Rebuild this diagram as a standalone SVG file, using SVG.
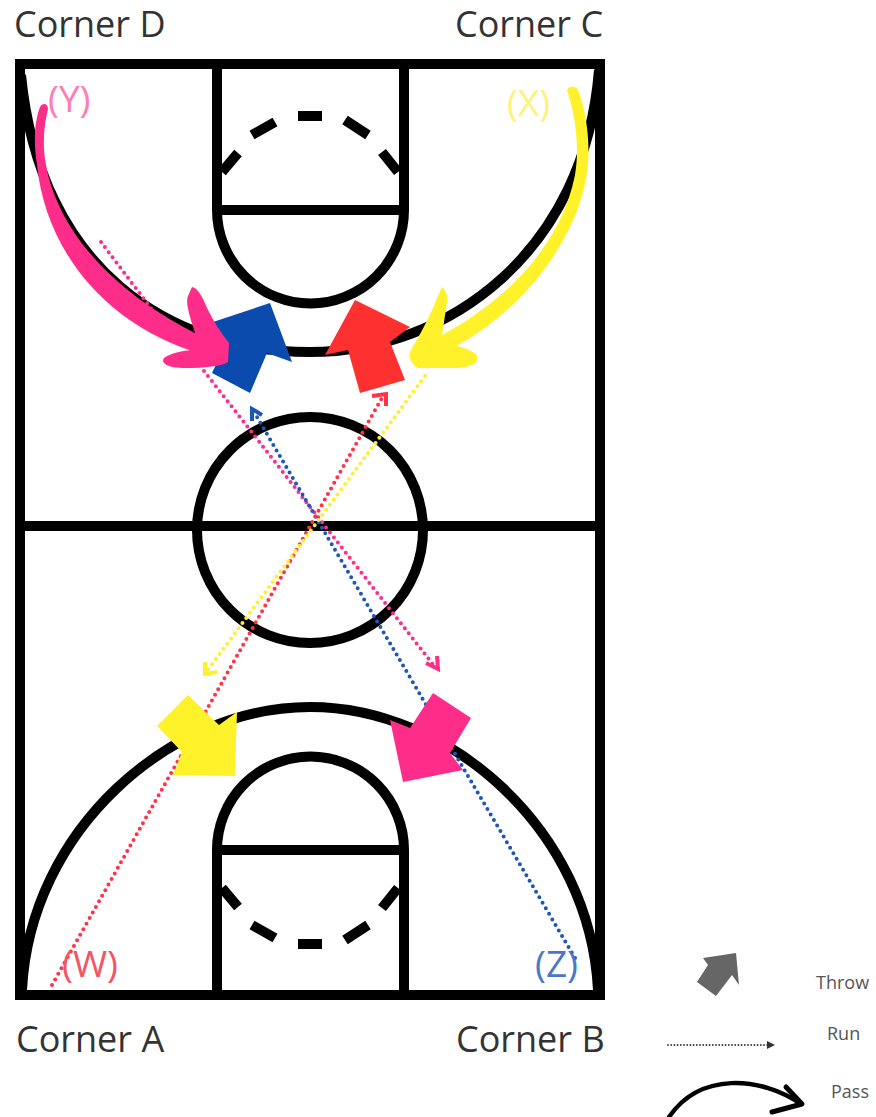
<svg xmlns="http://www.w3.org/2000/svg" width="876" height="1117" viewBox="0 0 876 1117">
<style>
.line{fill:none;stroke:#000;stroke-width:10}
.dots{fill:none;stroke-width:4;stroke-linecap:round;stroke-dasharray:0 6.400}
.corner{font-family:"Open Sans",sans-serif;font-size:36px;fill:#333}
.tag{font-family:"Open Sans",sans-serif;font-size:37px}
.legend{font-family:"Open Sans",sans-serif;font-size:18px;fill:#555}
</style>
<rect width="876" height="1117" fill="#fff"/>
<g id="court">
<rect class="line" x="20" y="64" width="580" height="931"/>
<path class="line" d="M20 526H600"/>
<circle class="line" cx="310" cy="530" r="113"/>
<path class="line" d="M217 64V210A93.500 93.500 0 0 0 404 210V64M217 210H404"/>
<path class="line" d="M217 995V850A93.500 93.500 0 0 1 404 850V995M217 850H404"/>
<path class="line" d="M222 172L238 153M252 135L275 122M298 116H322M345 120L368 135M382 152L398 172"/>
<path class="line" d="M222 888L238 907M252 925L275 938M298 944H322M345 940L368 925M382 908L398 888"/>
<path class="line" d="M21 75C40 270 170 352 310 352C450 352 585 250 599 70"/>
<path class="line" d="M22 990C30 830 170 707 310 707C450 707 590 830 598 990"/>
</g>
<g id="connectors">
<path class="dots" stroke="#ff2d8a" d="M101 242L156 315M204 371L435 667"/>
<path class="dots" stroke="#1f55b8" d="M575 958L254 412"/>
<path class="dots" stroke="#ff3347" d="M52 985L383 396"/>
<path class="dots" stroke="#ffef33" d="M425 376L207 671"/>
<path fill="none" stroke="#ff2d8a" stroke-width="4" d="M426 663L438 669L437 656"/>
<path fill="none" stroke="#1f55b8" stroke-width="4" d="M252 421L252 409L262 415"/>
<path fill="none" stroke="#ff3347" stroke-width="4" d="M372 396L386 394L386 406"/>
<path fill="none" stroke="#ffef33" stroke-width="4" d="M205 662L205 674L217 672"/>
<path class="dots" stroke="#444" d="M668 1045H768" style="stroke-width:2;stroke-dasharray:0 3.200"/>
<path fill="#333" d="M767 1041L775 1045L767 1049Z"/>
</g>
<g id="throw-blue"><path fill="#0b4bad" d="M213 322L270 303L292 362L267 353L250 393L212 373L225 345Z"/></g>
<g id="throw-red"><path fill="#ff3030" d="M355 300L410 327L390 342L405 380L360 393L348 350L325 355Z"/></g>
<g id="throw-yellow"><path fill="#fff22a" d="M188 695L219 725L237 712L235 776L173 775L182 752L157 726Z"/></g>
<g id="throw-pink"><path fill="#ff2d8a" d="M433 693L471 718L450 753L463 770L403 782L390 720L410 728Z"/></g>
<g id="arrow-pink-curve" fill="#ff2d8a">
<path d="M40 107C43 102 48 104 48 109C44 125 42 145 46 165C55 215 95 285 205 338L205 355C100 325 45 245 37 165C33 140 35 120 40 107Z"/>
<path d="M192 287C198 288 203 298 207 308C213 320 220 332 229 343L228 362C222 366 205 368 185 368C170 368 160 364 164 358C170 353 185 350 200 349C195 330 184 305 188 296Z"/>
</g>
<g id="arrow-yellow-curve" fill="#fff22a">
<path d="M567 90C570 85 576 86 578 90C586 110 590 140 588 165C582 230 530 310 443 353L438 337C500 305 560 250 575 175C580 145 575 115 567 90Z"/>
<path d="M442 287C446 290 448 297 447 302L441 342C455 345 470 349 476 354C480 360 476 366 460 368L418 368C411 364 409 358 410 352C420 335 432 312 437 298Z"/>
</g>
<g id="labels">
<text class="corner" x="14" y="37">Corner D</text>
<text class="corner" x="455" y="37">Corner C</text>
<text class="corner" x="16" y="1052">Corner A</text>
<text class="corner" x="456" y="1052">Corner B</text>
<text class="tag" x="48" y="112" fill="#ff7db5">(Y)</text>
<text class="tag" x="507" y="116" fill="#fff27a">(X)</text>
<text class="tag" x="62" y="977" fill="#f25565">(W)</text>
<text class="tag" x="535" y="977" fill="#4a78c8">(Z)</text>
</g>
<g id="legend">
<path fill="#666" d="M703 958L736 953L739 985L732 975L716 996L697 982L708 965Z"/>
<path fill="none" stroke="#000" stroke-width="4.500" stroke-linecap="round" d="M669 1117C700 1072 760 1076 801 1104"/>
<path fill="none" stroke="#000" stroke-width="5" stroke-linecap="round" stroke-linejoin="round" d="M786 1087L802 1104L772 1112"/>
<text class="legend" x="816" y="989">Throw</text>
<text class="legend" x="827" y="1040">Run</text>
<text class="legend" x="831" y="1098">Pass</text>
</g>
</svg>
